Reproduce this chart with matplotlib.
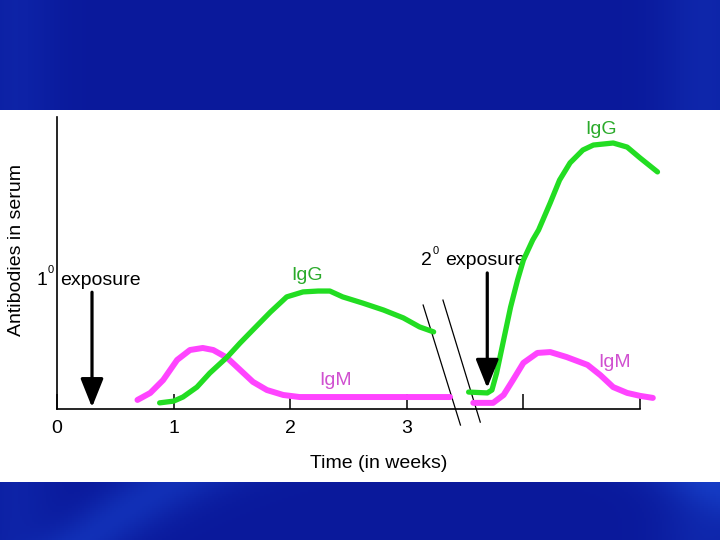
import numpy as np
import matplotlib
matplotlib.use('Agg')
import matplotlib.pyplot as plt
from matplotlib.patches import Rectangle

plt.rcParams['font.family'] = ['Liberation Sans', 'DejaVu Sans']

# primary response (weeks, level)
igg1_t = [0.88, 1.00, 1.08, 1.20, 1.31, 1.46, 1.57, 1.68, 1.83, 1.97, 2.11, 2.24, 2.34, 2.45, 2.62, 2.80, 2.97, 3.11, 3.23]
igg1_v = [2.1, 2.7, 4.1, 7.5, 12.3, 17.8, 22.6, 27.1, 33.2, 38.4, 40.1, 40.4, 40.4, 38.4, 36.3, 33.9, 31.2, 28.1, 26.4]
igm1_t = [0.69, 0.80, 0.91, 1.03, 1.14, 1.25, 1.34, 1.46, 1.57, 1.68, 1.80, 1.94, 2.08, 2.60, 3.37]
igm1_v = [3.1, 5.5, 9.9, 16.8, 20.2, 20.9, 20.2, 17.5, 13.4, 9.3, 6.5, 4.8, 4.1, 4.1, 4.1]

# secondary response
igg2_t = [3.53, 3.69, 3.73, 3.77, 3.83, 3.89, 3.95, 4.00, 4.08, 4.13, 4.23, 4.31, 4.40, 4.51, 4.60, 4.77, 4.89, 5.00, 5.15]
igg2_v = [5.8, 5.5, 6.5, 12.3, 23.6, 34.9, 44.2, 51.0, 57.9, 61.3, 70.6, 78.4, 84.3, 88.7, 90.4, 91.1, 89.7, 86.0, 81.2]
igm2_t = [3.57, 3.74, 3.83, 3.91, 4.00, 4.12, 4.23, 4.37, 4.55, 4.66, 4.77, 4.89, 5.00, 5.11]
igm2_v = [2.1, 2.1, 4.8, 9.9, 15.8, 19.2, 19.5, 17.8, 15.1, 11.6, 7.5, 5.5, 4.5, 3.8]

tick_pos = [0, 1, 2, 3, 4, 5]
tick_lbl = ['0', '1', '2', '3', '', '']

exposure1_t = 0.30
exposure2_t = 3.69

green = '#22dd22'
pink = '#ff44ff'
green_txt = '#2aaa2a'
pink_txt = '#d050d0'

fig = plt.figure(figsize=(7.2, 5.4), dpi=100)
fig.patch.set_facecolor('#0a1a9c')

# blue background with a soft lighter band
bg = fig.add_axes([0, 0, 1, 1], zorder=-2)
yy, xx = np.mgrid[0:1:270j, 0:1:360j]
glow = np.exp(-((yy - 0.75 - 0.25 * (xx - 0.62) ** 2 * 4) ** 2) / 0.004) * 0.35
glow += 0.15 * np.exp(-((xx - 0.02) ** 2) / 0.003) + 0.2 * np.exp(-((xx - 0.98) ** 2) / 0.004)
img = np.zeros(yy.shape + (3,))
img[..., 0] = 0.04 + 0.08 * glow
img[..., 1] = 0.10 + 0.25 * glow
img[..., 2] = 0.61 + 0.3 * glow
bg.imshow(np.clip(img, 0, 1), aspect='auto', extent=[0, 1, 0, 1])
bg.set_axis_off()

fig.patches.append(Rectangle((0, 0.1074), 1, 0.689, transform=fig.transFigure,
                             facecolor='white', edgecolor='none', zorder=-1))

ax = fig.add_axes([0.0792, 0.2426, 0.8097, 0.5407])
ax.set_facecolor('none')
ax.set_xlim(0, 5)
ax.set_ylim(0, 100)

ax.plot(igm1_t, igm1_v, color=pink, lw=4.3, solid_capstyle='round', solid_joinstyle='round', clip_on=False, zorder=3)
ax.plot(igg1_t, igg1_v, color=green, lw=3.8, solid_capstyle='round', solid_joinstyle='round', clip_on=False, zorder=4)
ax.plot(igm2_t, igm2_v, color=pink, lw=4.3, solid_capstyle='round', solid_joinstyle='round', clip_on=False, zorder=3)
ax.plot(igg2_t, igg2_v, color=green, lw=3.8, solid_capstyle='round', solid_joinstyle='round', clip_on=False, zorder=4)

# axis break
ax.plot([3.14, 3.46], [35.6, -5.5], color='black', lw=0.9, clip_on=False)
ax.plot([3.31, 3.63], [37.3, -4.5], color='black', lw=0.9, clip_on=False)

for s in ['top', 'right']:
    ax.spines[s].set_visible(False)
for s in ['left', 'bottom']:
    ax.spines[s].set_linewidth(1.2)
ax.set_yticks([])
ax.set_xticks(tick_pos)
ax.set_xticklabels(tick_lbl, fontsize=14)
ax.tick_params(axis='x', direction='in', length=11, width=1.1, pad=8)

# exposure arrows
arr = dict(arrowstyle='-|>,head_length=1.75,head_width=0.7', color='black', lw=2.3,
           mutation_scale=10, shrinkA=0, shrinkB=0)
ax.annotate('', xy=(exposure1_t, 0.6), xytext=(exposure1_t, 40.0), arrowprops=arr, zorder=5)
ax.annotate('', xy=(exposure2_t, 7.2), xytext=(exposure2_t, 46.6), arrowprops=arr, zorder=5)

ax.text(-0.175, 42.5, '1', fontsize=14, ha='left', va='baseline', clip_on=False)
ax.text(-0.080, 46.5, '0', fontsize=8, ha='left', va='baseline', clip_on=False)
ax.text(0.025, 42.5, 'exposure', fontsize=14, ha='left', va='baseline')
ax.text(3.118, 49.3, '2', fontsize=14, ha='left', va='baseline')
ax.text(3.218, 53.0, '0', fontsize=8, ha='left', va='baseline')
ax.text(3.325, 49.3, 'exposure', fontsize=14, ha='left', va='baseline')

ax.text(2.144, 44.2, 'IgG', fontsize=14, color=green_txt, ha='center', va='baseline')
ax.text(4.666, 94.2, 'IgG', fontsize=14, color=green_txt, ha='center', va='baseline', clip_on=False)
ax.text(2.389, 8.2, 'IgM', fontsize=14, color=pink_txt, ha='center', va='baseline')
ax.text(4.786, 14.4, 'IgM', fontsize=14, color=pink_txt, ha='center', va='baseline')

ax.text(2.762, -20.2, 'Time (in weeks)', fontsize=14, ha='center', va='baseline', clip_on=False)
fig.text(17 / 720, 1 - 250 / 540, 'Antibodies in serum', fontsize=14, rotation=90,
         ha='center', va='center')

fig.savefig('out.png', dpi=100, facecolor=fig.get_facecolor())
